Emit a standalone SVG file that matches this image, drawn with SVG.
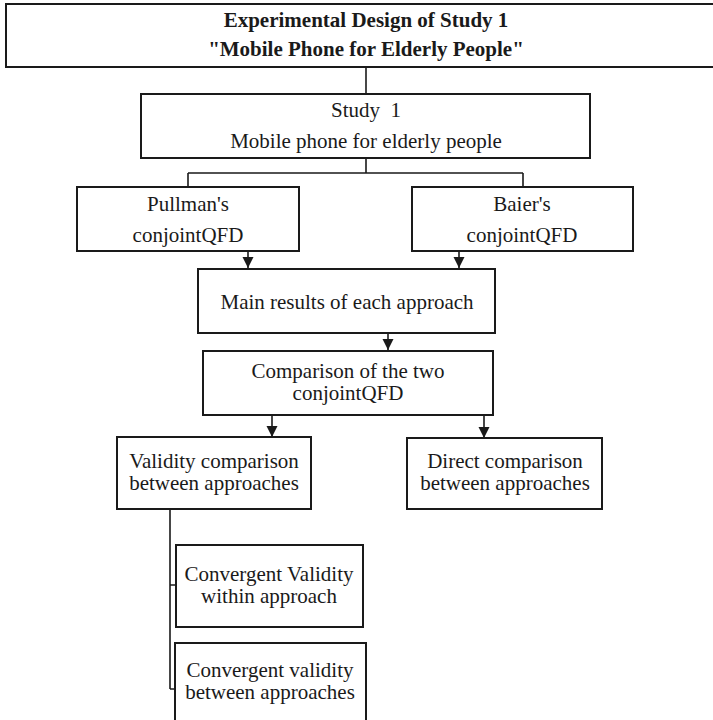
<svg xmlns="http://www.w3.org/2000/svg" width="713" height="720" viewBox="0 0 713 720">
  <style>
    .box { fill: #ffffff; stroke: #1a1a1a; stroke-width: 2; }
    .t { font-family: "Liberation Serif", "Times New Roman", serif; font-size: 21px; fill: #1a1a1a; text-anchor: middle; }
    .tb { font-family: "Liberation Serif", "Times New Roman", serif; font-size: 21px; font-weight: bold; fill: #1a1a1a; text-anchor: middle; }
    .c { fill: none; stroke: #1a1a1a; stroke-width: 1.6; }
  </style>
  <defs>
    <marker id="arr" markerUnits="userSpaceOnUse" markerWidth="12" markerHeight="12" refX="11" refY="6" orient="auto">
      <path d="M0,0.5 L11,6 L0,11.5 z" fill="#1a1a1a"/>
    </marker>
  </defs>
  <rect width="713" height="720" fill="#ffffff"/>

  <g id="connectors">
    <path class="c" d="M366,67 V94"/>
    <path class="c" d="M366,158 V173 M188,173 H523 M188,173 V187 M523,173 V187"/>
    <path class="c" d="M248,251 V268" marker-end="url(#arr)"/>
    <path class="c" d="M459,251 V268" marker-end="url(#arr)"/>
    <path class="c" d="M388,333 V350" marker-end="url(#arr)"/>
    <path class="c" d="M272,415 V437" marker-end="url(#arr)"/>
    <path class="c" d="M484,415 V438" marker-end="url(#arr)"/>
    <path class="c" d="M170,509 V689 M170,585 H176 M170,689 H175"/>
  </g>

  <g id="title">
    <rect class="box" x="6" y="4" width="720" height="63"/>
    <text class="tb" x="366" y="27">Experimental Design of Study 1</text>
    <text class="tb" x="366" y="56">"Mobile Phone for Elderly People"</text>
  </g>

  <g id="study1">
    <rect class="box" x="141" y="94" width="449" height="64"/>
    <text class="t" x="366" y="117">Study&#160; 1</text>
    <text class="t" x="366" y="148">Mobile phone for elderly people</text>
  </g>

  <g id="pullman">
    <rect class="box" x="77" y="187" width="222" height="64"/>
    <text class="t" x="188" y="211">Pullman's</text>
    <text class="t" x="188" y="242">conjointQFD</text>
  </g>

  <g id="baier">
    <rect class="box" x="412" y="187" width="221" height="64"/>
    <text class="t" x="522" y="211">Baier's</text>
    <text class="t" x="522" y="242">conjointQFD</text>
  </g>

  <g id="main-results">
    <rect class="box" x="198" y="269" width="297" height="64"/>
    <text class="t" x="347" y="309">Main results of each approach</text>
  </g>

  <g id="comparison">
    <rect class="box" x="203" y="351" width="290" height="64"/>
    <text class="t" x="348" y="378">Comparison of the two</text>
    <text class="t" x="348" y="400">conjointQFD</text>
  </g>

  <g id="validity">
    <rect class="box" x="117" y="437" width="194" height="72"/>
    <text class="t" x="214" y="468">Validity comparison</text>
    <text class="t" x="214" y="490">between approaches</text>
  </g>

  <g id="direct">
    <rect class="box" x="407" y="438" width="195" height="71"/>
    <text class="t" x="505" y="468">Direct comparison</text>
    <text class="t" x="505" y="490">between approaches</text>
  </g>

  <g id="conv-within">
    <rect class="box" x="176" y="545" width="187" height="82"/>
    <text class="t" x="269" y="581">Convergent Validity</text>
    <text class="t" x="269" y="603">within approach</text>
  </g>

  <g id="conv-between">
    <rect class="box" x="175" y="643" width="191" height="85"/>
    <text class="t" x="270" y="677">Convergent validity</text>
    <text class="t" x="270" y="699">between approaches</text>
  </g>
</svg>
